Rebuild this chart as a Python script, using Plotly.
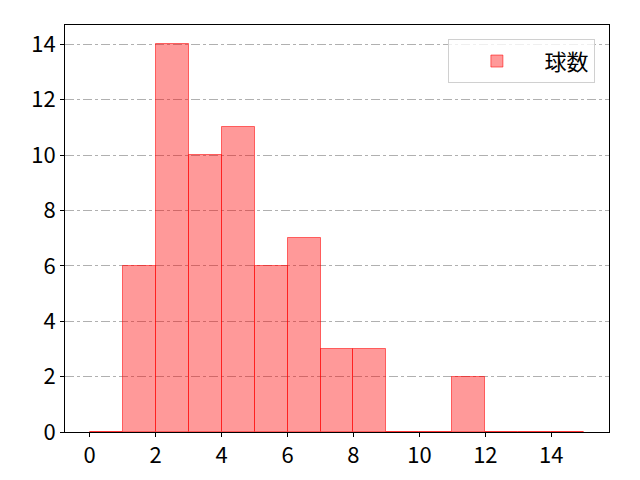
import plotly.graph_objects as go

# histogram of pitch counts, bins of width 1 from 0 to 15
bin_edges = list(range(0, 16))
counts = [0, 6, 14, 10, 11, 6, 7, 3, 3, 0, 0, 2, 0, 0, 0]
series_name = "球数"
x_ticks = [0, 2, 4, 6, 8, 10, 12, 14]
y_ticks = [0, 2, 4, 6, 8, 10, 12, 14]

centers = [(a + b) / 2 for a, b in zip(bin_edges[:-1], bin_edges[1:])]

fig = go.Figure()
fig.add_trace(go.Bar(
    x=centers,
    y=counts,
    width=1,
    name=series_name,
    marker=dict(color="rgba(255,0,0,0.4)",
                line=dict(color="rgba(255,0,0,0.55)", width=1)),
    showlegend=True,
))

fig.update_layout(
    width=640, height=480,
    margin=dict(l=57, r=39, t=17, b=56),
    paper_bgcolor="white",
    plot_bgcolor="white",
    font=dict(family="Noto Sans CJK JP", size=22, color="black"),
    bargap=0,
    showlegend=True,
    legend=dict(x=0.975, y=0.965, xanchor="right", yanchor="top",
                bordercolor="#d0d0d0", borderwidth=1,
                bgcolor="rgba(255,255,255,0.8)",
                itemwidth=85,
                font=dict(size=22)),
    xaxis=dict(range=[-0.75, 15.75], tickvals=x_ticks,
               showgrid=False, zeroline=False,
               showline=True, linecolor="black", linewidth=1, mirror=True,
               ticks="outside", ticklen=4, tickcolor="black"),
    yaxis=dict(range=[0, 14.7], tickvals=y_ticks,
               showgrid=True, gridcolor="#b0b0b0", griddash="dashdot", gridwidth=1,
               zeroline=False,
               showline=True, linecolor="black", linewidth=1, mirror=True,
               ticks="outside", ticklen=4, tickcolor="black"),
)

fig.write_html("out.html")
